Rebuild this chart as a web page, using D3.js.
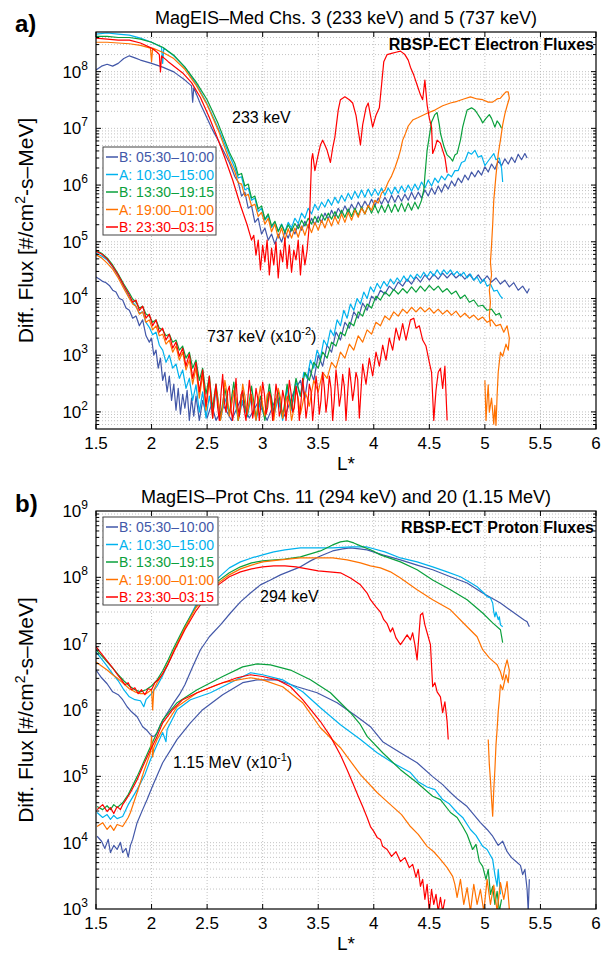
<!DOCTYPE html>
<html><head><meta charset="utf-8">
<script src="https://cdn.jsdelivr.net/npm/d3@7"></script>
<style>body{margin:0;background:#fff}svg{display:block}text{font-family:"Liberation Sans",Arial,Helvetica,sans-serif}</style>
</head><body>
<script>
// ---------------- DATA ----------------
const xTicks = [1.5, 2, 2.5, 3, 3.5, 4, 4.5, 5, 5.5, 6];
const xTickLabels = ["1.5", "2", "2.5", "3", "3.5", "4", "4.5", "5", "5.5", "6"];
const yExpA = [2, 3, 4, 5, 6, 7, 8];
const yExpB = [3, 4, 5, 6, 7, 8, 9];
const legendLabels = ["B: 05:30\u201310:00", "A: 10:30\u201315:00", "B: 13:30\u201319:15", "A: 19:00\u201301:00", "B: 23:30\u201303:15"];

// Panel a: MagEIS-Med electrons, 233 keV
const e233Blue = [[1.50,1.07e8],[1.55,1.25e8],[1.60,1.35e8],[1.65,1.25e8],[1.70,1.4e8],[1.75,1.7e8],[1.80,1.9e8],[1.85,1.75e8],[1.90,1.6e8],[2.00,1.4e8],[2.10,1.2e8],[2.20,9.9e7],[2.30,7.1e7],[2.36,5.6e7],[2.37,2.9e7],[2.38,5.2e7],[2.44,2.7e7],[2.50,1.5e7],[2.55,9.3e6],[2.60,6.1e6],[2.65,3.9e6],[2.70,2.5e6],[2.75,1.4e6],[2.78,1.13e6],[2.81,6.4e5],[2.84,7.5e5],[2.87,3.9e5],[2.90,4.3e5],[2.93,2.2e5],[2.96,2.6e5],[2.99,1.37e5],[3.02,1.75e5],[3.05,1.07e5],[3.08,1.37e5],[3.11,9.1e4],[3.14,1.37e5],[3.17,9.9e4],[3.20,1.5e5],[3.23,1.16e5],[3.26,1.75e5],[3.29,1.37e5],[3.32,2.05e5],[3.35,1.6e5],[3.38,2.3e5],[3.41,1.75e5],[3.44,2.6e5],[3.47,2.0e5],[3.50,2.8e5],[3.53,2.2e5],[3.56,3.2e5],[3.59,2.5e5],[3.62,3.6e5],[3.65,2.7e5],[3.68,3.9e5],[3.71,3.1e5],[3.74,4.3e5],[3.77,3.3e5],[3.80,4.6e5],[3.83,3.6e5],[3.86,5.0e5],[3.89,3.9e5],[3.92,5.2e5],[3.95,4.1e5],[3.98,5.6e5],[4.01,4.3e5],[4.04,5.9e5],[4.07,4.6e5],[4.10,6.1e5],[4.13,4.8e5],[4.16,6.6e5],[4.19,5.0e5],[4.22,6.6e5],[4.25,5.2e5],[4.28,6.9e5],[4.31,5.4e5],[4.34,7.5e5],[4.37,5.6e5],[4.40,7.5e5],[4.43,5.9e5],[4.46,8.2e5],[4.49,6.4e5],[4.52,8.9e5],[4.55,6.9e5],[4.58,9.6e5],[4.61,7.5e5],[4.64,1.04e6],[4.67,8.5e5],[4.70,1.18e6],[4.73,9.6e5],[4.76,1.33e6],[4.79,1.1e6],[4.82,1.5e6],[4.85,1.23e6],[4.88,1.7e6],[4.91,1.4e6],[4.94,1.8e6],[4.97,1.5e6],[5.00,2.1e6],[5.03,1.7e6],[5.06,2.35e6],[5.09,1.9e6],[5.12,2.65e6],[5.15,2.2e6],[5.18,2.9e6],[5.21,2.35e6],[5.24,3.1e6],[5.27,2.5e6],[5.30,3.5e6],[5.33,2.8e6],[5.36,3.6e6],[5.38,3.0e6]];
const e233Cyan = [[1.50,4.6e8],[1.60,4.8e8],[1.70,4.6e8],[1.80,4.4e8],[1.90,3.9e8],[2.00,3.3e8],[2.09,2.7e8],[2.10,1.4e8],[2.11,2.6e8],[2.20,1.9e8],[2.30,1.2e8],[2.40,6.1e7],[2.50,2.7e7],[2.60,1.0e7],[2.70,3.4e6],[2.75,2.0e6],[2.78,1.33e6],[2.81,1.4e6],[2.84,8.2e5],[2.87,8.9e5],[2.90,5.4e5],[2.93,5.9e5],[2.96,3.4e5],[2.99,3.9e5],[3.02,2.4e5],[3.05,2.9e5],[3.08,1.8e5],[3.11,2.2e5],[3.14,1.55e5],[3.17,2.05e5],[3.20,1.5e5],[3.23,2.2e5],[3.26,1.75e5],[3.29,2.6e5],[3.32,2.1e5],[3.35,3.2e5],[3.38,2.6e5],[3.41,3.9e5],[3.44,3.1e5],[3.47,4.6e5],[3.50,3.6e5],[3.53,5.0e5],[3.56,4.1e5],[3.59,5.6e5],[3.62,4.4e5],[3.65,6.1e5],[3.68,4.8e5],[3.71,6.6e5],[3.74,5.2e5],[3.77,7.2e5],[3.80,5.6e5],[3.83,7.8e5],[3.86,5.9e5],[3.89,8.2e5],[3.92,6.1e5],[3.95,8.5e5],[3.98,6.4e5],[4.01,8.5e5],[4.04,6.6e5],[4.07,8.9e5],[4.10,6.6e5],[4.13,8.9e5],[4.16,6.9e5],[4.19,9.2e5],[4.22,7.2e5],[4.25,9.6e5],[4.28,7.5e5],[4.31,1.0e6],[4.34,7.8e5],[4.37,1.04e6],[4.40,8.2e5],[4.43,1.13e6],[4.46,8.9e5],[4.49,1.23e6],[4.52,9.6e5],[4.55,1.33e6],[4.58,1.1e6],[4.61,1.44e6],[4.64,1.23e6],[4.67,1.56e6],[4.70,1.4e6],[4.73,1.8e6],[4.76,1.8e6],[4.79,2.5e6],[4.82,2.65e6],[4.85,3.8e6],[4.88,3.5e6],[4.91,4.1e6],[4.94,3.1e6],[4.97,3.3e6],[5.00,2.2e6],[5.02,2.5e6],[5.05,3.0e6],[5.08,3.6e6],[5.10,2.8e6],[5.13,3.0e6],[5.15,2.0e6],[5.16,1.13e6]];
const e233Green = [[1.50,4.2e8],[1.60,4.2e8],[1.70,4.0e8],[1.80,4.0e8],[1.90,3.75e8],[2.00,3.3e8],[2.10,2.7e8],[2.20,1.95e8],[2.30,1.2e8],[2.40,6.6e7],[2.50,3.2e7],[2.60,1.2e7],[2.70,3.8e6],[2.75,2.4e6],[2.78,1.5e6],[2.81,1.6e6],[2.84,9.6e5],[2.87,1.04e6],[2.90,5.9e5],[2.93,6.4e5],[2.96,3.8e5],[2.99,4.3e5],[3.02,2.5e5],[3.05,3.1e5],[3.08,1.9e5],[3.11,2.3e5],[3.14,1.5e5],[3.17,2.0e5],[3.20,1.45e5],[3.23,2.0e5],[3.26,1.55e5],[3.29,2.1e5],[3.32,1.7e5],[3.35,2.4e5],[3.38,1.9e5],[3.41,2.6e5],[3.44,2.05e5],[3.47,2.8e5],[3.50,2.2e5],[3.53,3.1e5],[3.56,2.4e5],[3.59,3.2e5],[3.62,2.5e5],[3.65,3.4e5],[3.68,2.6e5],[3.71,3.6e5],[3.74,2.7e5],[3.77,3.8e5],[3.80,2.8e5],[3.83,3.9e5],[3.86,2.9e5],[3.89,4.1e5],[3.92,3.1e5],[3.95,4.3e5],[3.98,3.2e5],[4.01,4.4e5],[4.04,3.2e5],[4.07,4.4e5],[4.10,3.3e5],[4.13,4.6e5],[4.16,3.3e5],[4.19,4.6e5],[4.22,3.4e5],[4.25,4.8e5],[4.28,3.4e5],[4.31,4.8e5],[4.34,3.6e5],[4.37,5.0e5],[4.40,3.8e5],[4.43,5.4e5],[4.45,8.2e5],[4.46,1.44e6],[4.48,4.1e6],[4.50,7.3e6],[4.52,1.3e7],[4.55,1.75e7],[4.57,1.9e7],[4.59,1.15e7],[4.60,8.2e6],[4.63,4.9e6],[4.66,3.4e6],[4.69,3.0e6],[4.71,2.65e6],[4.73,3.4e6],[4.75,3.6e6],[4.78,6.2e6],[4.80,1.05e7],[4.82,1.5e7],[4.84,2.1e7],[4.88,2.3e7],[4.91,2.1e7],[4.93,1.85e7],[4.96,1.5e7],[4.98,1.25e7],[5.01,1.5e7],[5.04,1.75e7],[5.06,1.5e7],[5.09,1.05e7],[5.11,1.35e7],[5.13,1.2e7],[5.15,1.0e7]];
const e233Orange = [[1.50,3.3e8],[1.60,3.3e8],[1.70,3.2e8],[1.80,3.1e8],[1.90,2.9e8],[1.99,2.6e8],[2.00,1.5e8],[2.01,2.6e8],[2.10,2.2e8],[2.20,1.7e8],[2.30,1.1e8],[2.40,5.8e7],[2.50,2.6e7],[2.60,9.3e6],[2.70,2.8e6],[2.75,1.7e6],[2.78,1.1e6],[2.81,1.04e6],[2.84,6.4e5],[2.87,6.9e5],[2.90,4.3e5],[2.93,4.6e5],[2.96,2.8e5],[2.99,3.3e5],[3.02,2.05e5],[3.05,2.6e5],[3.08,1.5e5],[3.11,2.05e5],[3.14,1.16e5],[3.17,1.75e5],[3.20,1.07e5],[3.23,1.7e5],[3.26,1.16e5],[3.29,1.75e5],[3.32,1.2e5],[3.35,1.9e5],[3.38,1.3e5],[3.41,2.05e5],[3.44,1.45e5],[3.47,2.2e5],[3.50,1.6e5],[3.53,2.4e5],[3.56,1.75e5],[3.59,2.6e5],[3.62,1.9e5],[3.65,2.8e5],[3.68,2.05e5],[3.71,3.1e5],[3.74,2.2e5],[3.77,3.3e5],[3.80,2.4e5],[3.83,3.6e5],[3.86,2.7e5],[3.89,3.9e5],[3.92,3.1e5],[3.95,4.4e5],[3.98,3.6e5],[4.01,5.4e5],[4.04,4.8e5],[4.07,7.2e5],[4.10,8.2e5],[4.13,1.13e6],[4.16,1.44e6],[4.19,2.0e6],[4.22,3.0e6],[4.24,4.1e6],[4.26,6.2e6],[4.28,7.6e6],[4.31,1.1e7],[4.35,1.4e7],[4.40,1.55e7],[4.48,1.85e7],[4.55,2.1e7],[4.62,2.5e7],[4.69,2.8e7],[4.75,3.0e7],[4.81,3.3e7],[4.87,3.6e7],[4.93,3.3e7],[4.98,3.2e7],[5.03,2.9e7],[5.07,2.9e7],[5.11,3.3e7],[5.14,3.4e7],[5.17,4.0e7],[5.19,4.4e7],[5.21,4.4e7],[5.22,3.4e7],[5.20,2.5e7],[5.18,1.8e7],[5.16,1.15e7],[5.14,6.2e6],[5.12,3.5e6],[5.10,1.5e6],[5.08,5.4e5],[5.07,2.0e5],[5.06,8.8e4],[5.05,4.4e4],[5.06,2.6e4],[5.04,1.4e4],[5.05,8.6e3],[5.04,5.0e3],[5.05,3.2e3]];
const e233Red = [[1.50,3.9e8],[1.60,3.75e8],[1.70,3.6e8],[1.80,3.6e8],[1.90,3.2e8],[2.00,2.6e8],[2.05,2.2e8],[2.07,2.0e8],[2.08,9.9e7],[2.09,1.9e8],[2.15,1.5e8],[2.28,9.5e7],[2.36,6.4e7],[2.44,3.5e7],[2.52,1.55e7],[2.59,7.0e6],[2.66,3.0e6],[2.73,1.23e6],[2.80,4.4e5],[2.86,2.0e5],[2.90,1.07e5],[2.92,1.3e5],[2.94,5.8e4],[2.96,1.07e5],[2.98,3.2e4],[3.00,8.7e4],[3.02,4.4e4],[3.04,1.07e5],[3.06,2.6e4],[3.08,7.7e4],[3.10,3.9e4],[3.12,9.9e4],[3.14,2.3e4],[3.16,7.1e4],[3.18,4.4e4],[3.20,1.16e5],[3.22,3.4e4],[3.24,8.7e4],[3.26,2.9e4],[3.28,7.1e4],[3.30,4.8e4],[3.32,1.07e5],[3.34,2.6e4],[3.36,8.7e4],[3.38,3.9e4],[3.40,7.1e4],[3.42,2.0e5],[3.44,2.8e6],[3.45,3.6e6],[3.47,1.8e6],[3.49,2.8e6],[3.52,5.1e6],[3.54,6.2e6],[3.56,5.1e6],[3.58,4.1e6],[3.61,2.5e6],[3.63,4.5e6],[3.65,7.0e6],[3.68,2.1e7],[3.70,3.2e7],[3.74,3.6e7],[3.78,3.2e7],[3.81,2.8e7],[3.84,1.7e7],[3.86,9.3e6],[3.88,5.1e6],[3.90,1.15e7],[3.93,2.3e7],[3.95,2.8e7],[3.97,1.7e7],[3.99,1.05e7],[4.02,1.7e7],[4.05,2.3e7],[4.07,5.8e7],[4.09,1.5e8],[4.12,2.0e8],[4.16,2.1e8],[4.20,2.2e8],[4.24,2.3e8],[4.28,2.0e8],[4.31,1.6e8],[4.33,1.2e8],[4.36,8.7e7],[4.39,5.8e7],[4.42,3.9e7],[4.44,3.2e7],[4.46,7.1e7],[4.48,2.6e7],[4.50,1.5e7],[4.52,1.05e7],[4.53,3.6e6],[4.55,4.5e6],[4.57,6.2e6],[4.60,5.5e6],[4.62,4.1e6],[4.64,3.1e6],[4.66,1.65e6]];

// Panel a: 737 keV (x10^-2)
const e737Blue = [[1.50,2.4e4],[1.53,2.2e4],[1.56,2.0e4],[1.59,1.9e4],[1.62,1.7e4],[1.65,1.4e4],[1.68,1.3e4],[1.71,1.0e4],[1.74,9.4e3],[1.77,6.8e3],[1.80,6.2e3],[1.83,4.5e3],[1.86,4.9e3],[1.89,3.3e3],[1.92,4.2e3],[1.95,2.2e3],[1.98,1.7e3],[2.00,2.0e3],[2.02,1.0e3],[2.04,1.23e3],[2.06,590],[2.08,890],[2.10,360],[2.12,500],[2.14,225],[2.16,430],[2.18,160],[2.20,310],[2.22,107],[2.24,260],[2.26,91],[2.28,205],[2.30,116],[2.32,240],[2.34,71],[2.36,175],[2.38,84],[2.40,190],[2.43,71],[2.46,160],[2.50,78],[2.54,137],[2.58,71],[2.65,126],[2.72,71],[2.80,160],[2.88,78],[2.96,150],[3.04,71],[3.12,175],[3.20,84],[3.28,225],[3.34,360],[3.38,175],[3.42,590],[3.46,360],[3.50,1.0e3],[3.54,640],[3.58,1.5e3],[3.62,1.13e3],[3.66,2.55e3],[3.70,1.85e3],[3.74,3.8e3],[3.78,3.0e3],[3.82,5.8e3],[3.86,4.5e3],[3.90,8.3e3],[3.94,6.2e3],[3.98,1.1e4],[4.02,9.4e3],[4.06,1.4e4],[4.10,1.2e4],[4.14,1.65e4],[4.18,1.4e4],[4.22,1.95e4],[4.26,1.65e4],[4.30,2.2e4],[4.34,1.8e4],[4.38,2.4e4],[4.42,1.95e4],[4.46,2.6e4],[4.50,2.1e4],[4.54,2.7e4],[4.58,2.2e4],[4.62,2.8e4],[4.66,2.3e4],[4.70,2.8e4],[4.74,2.3e4],[4.78,2.7e4],[4.82,2.2e4],[4.86,2.7e4],[4.90,2.1e4],[4.94,2.6e4],[4.98,2.0e4],[5.02,2.5e4],[5.06,1.95e4],[5.10,2.3e4],[5.14,1.8e4],[5.18,2.1e4],[5.22,1.6e4],[5.26,1.9e4],[5.30,1.4e4],[5.34,1.65e4],[5.38,1.25e4],[5.40,1.5e4]];
const e737Cyan = [[1.50,6.3e4],[1.55,5.6e4],[1.60,4.8e4],[1.65,3.6e4],[1.70,2.5e4],[1.75,1.65e4],[1.80,1.05e4],[1.83,8.6e3],[1.86,7.3e3],[1.89,5.5e3],[1.92,5.8e3],[1.95,3.8e3],[1.98,3.1e3],[2.01,2.3e3],[2.04,2.55e3],[2.07,1.5e3],[2.10,1.23e3],[2.13,750],[2.16,1.0e3],[2.19,590],[2.22,700],[2.25,390],[2.28,550],[2.31,260],[2.34,390],[2.37,160],[2.40,300],[2.43,99],[2.46,225],[2.49,78],[2.52,190],[2.55,84],[2.58,240],[2.62,71],[2.66,175],[2.70,91],[2.74,225],[2.78,71],[2.82,160],[2.86,81],[2.90,190],[2.94,71],[2.98,150],[3.02,78],[3.06,240],[3.10,84],[3.14,175],[3.18,71],[3.22,260],[3.26,107],[3.30,335],[3.34,190],[3.37,500],[3.40,390],[3.43,820],[3.46,590],[3.49,1.23e3],[3.52,890],[3.55,1.85e3],[3.58,1.45e3],[3.61,2.8e3],[3.64,2.2e3],[3.67,4.2e3],[3.70,3.3e3],[3.73,6.2e3],[3.76,4.5e3],[3.79,8.0e3],[3.82,6.2e3],[3.85,1.0e4],[3.88,8.0e3],[3.91,1.3e4],[3.94,1.0e4],[3.97,1.6e4],[4.00,1.3e4],[4.03,1.85e4],[4.06,1.5e4],[4.09,2.0e4],[4.12,1.65e4],[4.15,2.2e4],[4.18,1.8e4],[4.21,2.3e4],[4.24,1.95e4],[4.27,2.5e4],[4.30,2.0e4],[4.33,2.6e4],[4.36,2.2e4],[4.39,2.7e4],[4.42,2.3e4],[4.45,2.9e4],[4.48,2.4e4],[4.51,3.0e4],[4.54,2.5e4],[4.57,3.2e4],[4.60,2.6e4],[4.63,3.2e4],[4.66,2.7e4],[4.69,3.2e4],[4.72,2.6e4],[4.75,3.0e4],[4.78,2.5e4],[4.81,2.9e4],[4.84,2.3e4],[4.87,2.7e4],[4.90,2.1e4],[4.93,2.4e4],[4.96,1.85e4],[4.99,2.2e4],[5.02,1.65e4],[5.05,1.8e4],[5.08,1.35e4],[5.11,1.4e4],[5.14,1.1e4],[5.16,1.0e4]];
const e737Green = [[1.50,7.1e4],[1.55,6.3e4],[1.60,5.2e4],[1.65,3.9e4],[1.70,2.7e4],[1.75,1.8e4],[1.80,1.25e4],[1.83,9.8e3],[1.86,8.6e3],[1.89,6.8e3],[1.92,7.3e3],[1.95,5.3e3],[1.98,4.9e3],[2.01,3.8e3],[2.04,4.2e3],[2.07,3.0e3],[2.10,2.8e3],[2.13,2.2e3],[2.16,2.35e3],[2.19,1.7e3],[2.22,1.85e3],[2.25,1.23e3],[2.28,1.45e3],[2.31,890],[2.34,1.13e3],[2.37,590],[2.40,820],[2.43,360],[2.46,590],[2.49,205],[2.52,430],[2.55,116],[2.58,310],[2.62,78],[2.66,260],[2.70,91],[2.74,335],[2.78,71],[2.82,225],[2.86,84],[2.90,285],[2.94,78],[2.98,190],[3.02,71],[3.06,310],[3.10,99],[3.14,240],[3.18,78],[3.22,310],[3.26,116],[3.30,390],[3.34,190],[3.38,500],[3.42,360],[3.46,750],[3.50,590],[3.54,1.13e3],[3.58,890],[3.62,1.7e3],[3.66,1.45e3],[3.70,2.55e3],[3.74,2.2e3],[3.78,3.8e3],[3.82,3.3e3],[3.86,5.8e3],[3.90,4.9e3],[3.94,8.0e3],[3.98,6.8e3],[4.02,1.1e4],[4.06,9.4e3],[4.10,1.3e4],[4.14,1.1e4],[4.18,1.45e4],[4.22,1.2e4],[4.26,1.5e4],[4.30,1.25e4],[4.34,1.6e4],[4.38,1.3e4],[4.42,1.65e4],[4.46,1.35e4],[4.50,1.7e4],[4.54,1.4e4],[4.58,1.65e4],[4.62,1.3e4],[4.66,1.5e4],[4.70,1.2e4],[4.74,1.35e4],[4.78,1.0e4],[4.82,1.15e4],[4.86,8.6e3],[4.90,9.4e3],[4.94,7.3e3],[4.98,7.6e3],[5.02,6.2e3],[5.06,6.5e3],[5.10,5.1e3],[5.13,5.5e3],[5.15,4.5e3]];
const e737Orange = [[1.50,5.9e4],[1.55,5.2e4],[1.60,4.2e4],[1.65,3.3e4],[1.70,2.3e4],[1.75,1.5e4],[1.80,1.0e4],[1.83,8.0e3],[1.86,7.3e3],[1.89,5.3e3],[1.92,5.8e3],[1.95,3.8e3],[1.98,4.2e3],[2.01,2.8e3],[2.04,3.3e3],[2.07,2.2e3],[2.10,2.35e3],[2.13,1.57e3],[2.16,1.85e3],[2.19,1.13e3],[2.22,1.45e3],[2.25,820],[2.28,1.13e3],[2.31,550],[2.34,820],[2.37,310],[2.40,590],[2.43,175],[2.46,460],[2.49,107],[2.52,360],[2.55,78],[2.565,170],[2.58,260],[2.60,150],[2.62,71],[2.64,120],[2.66,360],[2.68,200],[2.70,84],[2.72,130],[2.74,240],[2.76,170],[2.78,71],[2.80,110],[2.82,310],[2.84,190],[2.86,91],[2.88,140],[2.90,205],[2.92,120],[2.94,71],[2.96,160],[2.98,285],[3.00,130],[3.02,84],[3.04,200],[3.06,225],[3.08,110],[3.10,71],[3.12,150],[3.14,260],[3.16,180],[3.18,78],[3.20,120],[3.22,190],[3.24,150],[3.26,71],[3.28,110],[3.30,240],[3.32,170],[3.34,91],[3.36,140],[3.38,225],[3.40,180],[3.42,126],[3.44,220],[3.46,360],[3.50,225],[3.54,500],[3.58,390],[3.62,750],[3.66,590],[3.70,1.13e3],[3.74,890],[3.78,1.57e3],[3.82,1.23e3],[3.86,2.2e3],[3.90,1.7e3],[3.94,2.8e3],[3.98,2.35e3],[4.02,3.8e3],[4.06,3.3e3],[4.10,4.9e3],[4.14,4.2e3],[4.18,5.8e3],[4.22,4.9e3],[4.26,6.5e3],[4.30,5.5e3],[4.34,7.0e3],[4.38,5.8e3],[4.42,7.0e3],[4.46,5.8e3],[4.50,6.8e3],[4.54,5.5e3],[4.58,6.5e3],[4.62,5.3e3],[4.66,6.2e3],[4.70,5.1e3],[4.74,6.0e3],[4.78,4.7e3],[4.82,5.5e3],[4.86,4.5e3],[4.90,5.1e3],[4.94,4.2e3],[4.98,4.7e3],[5.02,3.8e3],[5.06,4.2e3],[5.10,3.3e3],[5.14,3.5e3],[5.17,2.55e3],[5.20,3.3e3],[5.22,2.0e3],[5.21,1.23e3],[5.19,1.57e3],[5.16,960],[5.14,1.13e3],[5.12,500],[5.11,195],[5.10,58],[5.09,130],[5.08,61],[5.06,175],[5.04,99],[5.03,300],[5.02,160],[5.01,71],[5.00,360]];
const e737Red = [[1.50,6.8e4],[1.55,6.1e4],[1.60,5.0e4],[1.65,3.7e4],[1.70,2.6e4],[1.75,1.7e4],[1.80,1.15e4],[1.83,8.6e3],[1.86,9.4e3],[1.89,6.2e3],[1.92,7.3e3],[1.95,4.5e3],[1.98,5.3e3],[2.01,3.3e3],[2.04,4.2e3],[2.07,2.55e3],[2.10,3.0e3],[2.13,1.85e3],[2.16,2.35e3],[2.19,1.33e3],[2.22,1.7e3],[2.25,960],[2.28,1.33e3],[2.31,640],[2.34,1.05e3],[2.37,390],[2.40,750],[2.43,225],[2.46,550],[2.49,126],[2.52,430],[2.55,78],[2.565,180],[2.58,310],[2.595,120],[2.61,71],[2.625,210],[2.64,460],[2.655,150],[2.67,99],[2.685,230],[2.70,285],[2.715,110],[2.73,71],[2.745,170],[2.76,390],[2.775,130],[2.79,84],[2.805,200],[2.82,240],[2.835,105],[2.85,71],[2.865,160],[2.88,360],[2.895,190],[2.91,78],[2.925,120],[2.94,260],[2.955,175],[2.97,71],[2.985,140],[3.00,335],[3.015,210],[3.03,91],[3.045,120],[3.06,225],[3.075,180],[3.09,71],[3.105,130],[3.12,310],[3.135,200],[3.15,84],[3.165,110],[3.18,240],[3.195,170],[3.21,71],[3.225,140],[3.24,360],[3.255,220],[3.27,99],[3.285,120],[3.30,285],[3.315,190],[3.33,71],[3.345,150],[3.36,390],[3.375,200],[3.39,78],[3.405,130],[3.42,310],[3.435,230],[3.45,71],[3.465,150],[3.48,430],[3.495,250],[3.51,91],[3.525,160],[3.54,500],[3.555,270],[3.57,99],[3.585,180],[3.60,430],[3.615,260],[3.63,71],[3.645,170],[3.66,550],[3.675,300],[3.69,126],[3.705,200],[3.72,460],[3.735,280],[3.75,71],[3.765,220],[3.78,590],[3.795,330],[3.81,160],[3.825,260],[3.84,500],[3.855,380],[3.87,78],[3.885,240],[3.90,700],[3.93,310],[3.96,890],[3.99,430],[4.02,1.13e3],[4.05,640],[4.08,1.5e3],[4.11,820],[4.14,2.0e3],[4.17,1.23e3],[4.20,3.0e3],[4.23,1.85e3],[4.26,3.6e3],[4.29,1.85e3],[4.31,2.8e3],[4.33,4.2e3],[4.36,4.5e3],[4.38,3.0e3],[4.41,3.3e3],[4.44,1.85e3],[4.47,1.45e3],[4.50,750],[4.52,500],[4.54,71],[4.56,240],[4.58,500],[4.60,590],[4.62,260],[4.64,640],[4.66,71]];

// Panel b: MagEIS-Prot protons, 294 keV
const p294Blue = [[1.50,4.0e6],[1.55,3.06e6],[1.60,2.49e6],[1.65,1.88e6],[1.70,1.7e6],[1.74,1.43e6],[1.78,1.12e6],[1.82,9.4e5],[1.87,7.9e5],[1.92,5.6e5],[1.96,4.9e5],[1.99,4.26e5],[2.01,3.98e5],[2.03,4.1e5],[2.05,4.57e5],[2.08,6.0e5],[2.12,7.9e5],[2.16,1.01e6],[2.20,1.29e6],[2.25,1.7e6],[2.30,2.4e6],[2.37,4.47e6],[2.44,8.1e6],[2.52,1.27e7],[2.62,1.92e7],[2.71,2.9e7],[2.80,4.27e7],[2.89,5.8e7],[2.98,7.7e7],[3.07,9.1e7],[3.16,1.09e8],[3.25,1.25e8],[3.34,1.44e8],[3.43,1.77e8],[3.52,2.1e8],[3.63,2.5e8],[3.72,2.68e8],[3.79,2.78e8],[3.87,2.68e8],[3.94,2.6e8],[4.08,2.18e8],[4.24,1.83e8],[4.39,1.53e8],[4.53,1.3e8],[4.69,1.02e8],[4.84,8.2e7],[4.98,5.8e7],[5.14,4.1e7],[5.29,2.7e7],[5.35,2.3e7],[5.38,2.14e7],[5.40,1.8e7]];
const p294Cyan = [[1.50,7.5e6],[1.55,5.9e6],[1.60,4.6e6],[1.65,3.5e6],[1.70,2.76e6],[1.75,2.02e6],[1.80,1.58e6],[1.85,1.43e6],[1.90,1.38e6],[1.93,1.12e6],[1.95,1.43e6],[2.00,1.76e6],[2.05,2.3e6],[2.10,3.3e6],[2.15,4.96e6],[2.20,7.8e6],[2.30,1.8e7],[2.40,3.85e7],[2.50,6.5e7],[2.60,9.8e7],[2.70,1.39e8],[2.80,1.71e8],[2.90,1.96e8],[3.00,2.18e8],[3.10,2.42e8],[3.20,2.6e8],[3.34,2.78e8],[3.52,2.78e8],[3.63,2.78e8],[3.80,2.87e8],[3.94,2.87e8],[4.10,2.42e8],[4.24,1.96e8],[4.39,1.71e8],[4.53,1.44e8],[4.66,1.21e8],[4.78,1.02e8],[4.86,8.5e7],[4.93,7.2e7],[5.00,5.6e7],[5.02,5.1e7],[5.05,4.9e7],[5.07,4.1e7],[5.08,3.0e7],[5.09,2.54e7],[5.10,3.0e7],[5.12,2.3e7],[5.13,2.54e7],[5.14,1.92e7],[5.16,1.8e7]];
const p294Green = [[1.50,8.1e6],[1.55,6.6e6],[1.60,5.3e6],[1.65,4.3e6],[1.70,3.4e6],[1.75,2.76e6],[1.80,2.3e6],[1.85,2.02e6],[1.90,1.88e6],[1.95,2.02e6],[2.00,2.3e6],[2.05,2.85e6],[2.10,3.9e6],[2.15,5.7e6],[2.20,8.7e6],[2.30,1.86e7],[2.40,3.6e7],[2.50,6.0e7],[2.60,8.84e7],[2.70,1.17e8],[2.80,1.44e8],[2.90,1.65e8],[3.00,1.77e8],[3.20,1.89e8],[3.34,2.03e8],[3.52,2.5e8],[3.63,3.08e8],[3.70,3.42e8],[3.76,3.54e8],[3.82,3.3e8],[3.88,2.98e8],[3.97,2.6e8],[4.06,2.18e8],[4.24,1.71e8],[4.39,1.3e8],[4.53,9.1e7],[4.69,6.5e7],[4.84,4.6e7],[4.98,2.9e7],[5.07,2.06e7],[5.14,1.62e7],[5.16,1.04e7]];
const p294Orange = [[1.50,5.3e6],[1.55,4.6e6],[1.60,4.0e6],[1.65,3.4e6],[1.70,2.95e6],[1.75,2.49e6],[1.80,2.09e6],[1.85,1.88e6],[1.90,1.76e6],[1.95,1.76e6],[2.00,2.02e6],[2.01,1.0e6],[2.02,2.0e6],[2.05,2.58e6],[2.10,3.5e6],[2.15,5.1e6],[2.20,7.8e6],[2.30,1.73e7],[2.40,3.5e7],[2.50,5.6e7],[2.60,8.2e7],[2.70,1.09e8],[2.80,1.34e8],[2.90,1.53e8],[3.00,1.71e8],[3.16,1.83e8],[3.34,1.96e8],[3.52,1.96e8],[3.63,1.96e8],[3.76,1.83e8],[3.88,1.65e8],[3.97,1.49e8],[4.06,1.39e8],[4.15,1.21e8],[4.24,9.8e7],[4.39,6.5e7],[4.53,4.6e7],[4.69,3.24e7],[4.84,1.8e7],[4.93,1.27e7],[4.98,8.1e6],[5.04,6.1e6],[5.07,5.5e6],[5.11,4.8e6],[5.14,3.77e6],[5.16,2.85e6],[5.18,4.3e6],[5.20,5.7e6],[5.22,4.0e6],[5.21,2.58e6],[5.19,3.4e6],[5.16,2.02e6],[5.14,2.4e6],[5.13,1.43e6],[5.12,9.4e5],[5.11,5.1e5],[5.10,3.0e5],[5.09,1.26e5],[5.08,6.3e4],[5.07,2.5e4],[5.06,4.5e4],[5.05,8.9e4],[5.04,1.5e5],[5.03,3.6e5]];
const p294Red = [[1.50,9.0e6],[1.55,7.0e6],[1.60,5.5e6],[1.65,4.3e6],[1.70,3.3e6],[1.73,2.85e6],[1.76,2.4e6],[1.79,2.58e6],[1.82,2.02e6],[1.85,2.16e6],[1.88,1.76e6],[1.91,2.02e6],[1.94,1.7e6],[1.97,2.09e6],[2.00,2.02e6],[2.03,2.58e6],[2.06,2.85e6],[2.10,3.5e6],[2.15,4.96e6],[2.20,7.5e6],[2.30,1.62e7],[2.40,3.13e7],[2.50,5.3e7],[2.60,7.7e7],[2.70,1.02e8],[2.80,1.21e8],[2.90,1.34e8],[3.00,1.44e8],[3.10,1.49e8],[3.20,1.49e8],[3.30,1.44e8],[3.40,1.34e8],[3.50,1.25e8],[3.60,1.21e8],[3.70,1.17e8],[3.79,9.8e7],[3.88,7.7e7],[3.94,5.8e7],[3.97,4.6e7],[4.02,3.6e7],[4.06,3.0e7],[4.09,2.3e7],[4.12,2.0e7],[4.15,1.5e7],[4.17,1.73e7],[4.20,1.22e7],[4.24,9.7e6],[4.27,1.14e7],[4.30,1.36e7],[4.33,1.14e7],[4.35,1.46e7],[4.37,9.7e6],[4.39,5.7e6],[4.41,1.62e7],[4.42,2.7e7],[4.44,2.9e7],[4.46,1.92e7],[4.48,1.46e7],[4.51,9.7e6],[4.53,2.24e6],[4.55,2.58e6],[4.57,1.88e6],[4.60,1.58e6],[4.62,9.1e5],[4.64,1.33e6],[4.66,6.7e5],[4.67,3.6e5]];

// Panel b: 1.15 MeV (x10^-1)
const p115Blue = [[1.51,1.25e4],[1.55,1.05e4],[1.58,8.2e3],[1.61,1.12e4],[1.63,7.1e3],[1.66,9.1e3],[1.69,7.9e3],[1.72,1.01e4],[1.74,7.1e3],[1.77,8.2e3],[1.79,6.05e3],[1.81,9.1e3],[1.83,1.12e4],[1.87,2.0e4],[1.92,3.15e4],[1.96,4.46e4],[2.01,7.2e4],[2.10,1.6e5],[2.23,3.6e5],[2.35,6.4e5],[2.46,1.01e6],[2.64,1.7e6],[2.82,2.58e6],[2.95,2.85e6],[3.13,2.85e6],[3.31,2.24e6],[3.49,1.82e6],[3.67,1.29e6],[3.85,7.9e5],[3.97,5.6e5],[4.08,3.33e5],[4.24,2.27e5],[4.39,1.6e5],[4.53,9.9e4],[4.62,7.5e4],[4.69,5.7e4],[4.76,4.46e4],[4.84,3.5e4],[4.90,2.65e4],[4.96,2.0e4],[5.02,1.58e4],[5.07,1.25e4],[5.12,9.1e3],[5.16,1.05e4],[5.20,7.3e3],[5.24,5.96e3],[5.28,5.2e3],[5.32,4.55e3],[5.34,3.3e3],[5.36,3.95e3],[5.38,1.97e3],[5.39,920],[5.40,2.8e3]];
const p115Cyan = [[1.51,2.85e4],[1.56,2.4e4],[1.60,2.65e4],[1.63,2.24e4],[1.66,2.57e4],[1.69,2.3e4],[1.74,2.48e4],[1.79,3.74e4],[1.87,6.3e4],[1.94,1.06e5],[1.99,1.78e5],[2.05,3.0e5],[2.10,4.57e5],[2.13,3.33e5],[2.14,5.1e5],[2.23,1.01e6],[2.35,1.43e6],[2.53,1.82e6],[2.71,2.58e6],[2.89,3.64e6],[3.00,3.4e6],[3.18,2.85e6],[3.36,1.88e6],[3.52,1.08e6],[3.70,6.0e5],[3.88,3.6e5],[4.03,2.27e5],[4.17,1.6e5],[4.33,1.14e5],[4.40,8.3e4],[4.48,6.9e4],[4.55,6.3e4],[4.62,4.46e4],[4.68,3.85e4],[4.75,2.85e4],[4.80,2.4e4],[4.87,1.58e4],[4.92,1.29e4],[4.98,8.8e3],[5.02,7.9e3],[5.07,5.6e3],[5.09,3.3e3],[5.11,2.2e3],[5.12,3.95e3],[5.14,1.66e3]];
const p115Green = [[1.51,3.5e4],[1.56,3.15e4],[1.60,3.6e4],[1.63,3.15e4],[1.66,3.74e4],[1.69,3.37e4],[1.74,4.0e4],[1.79,5.3e4],[1.87,9.9e4],[1.93,1.66e5],[1.99,2.8e5],[2.05,4.57e5],[2.10,7.1e5],[2.23,1.29e6],[2.41,2.02e6],[2.64,3.2e6],[2.82,4.47e6],[2.95,4.96e6],[3.07,4.8e6],[3.25,4.0e6],[3.43,2.85e6],[3.61,1.82e6],[3.79,9.1e5],[3.88,6.0e5],[3.94,4.0e5],[4.08,2.27e5],[4.24,1.26e5],[4.39,8.0e4],[4.53,5.0e4],[4.60,4.46e4],[4.69,2.85e4],[4.75,2.4e4],[4.80,1.75e4],[4.84,1.33e4],[4.89,7.9e3],[4.92,9.4e3],[4.95,5.2e3],[4.98,4.4e3],[5.01,2.8e3],[5.03,3.95e3],[5.05,1.66e3],[5.07,2.2e3],[5.09,1.17e3],[5.11,1.84e3],[5.13,920],[5.15,1.4e3]];
const p115Orange = [[1.51,1.75e4],[1.56,2.0e4],[1.60,1.58e4],[1.63,1.82e4],[1.66,1.53e4],[1.69,1.88e4],[1.74,1.75e4],[1.79,2.4e4],[1.81,2.85e4],[1.87,5.7e4],[1.93,1.18e5],[1.99,2.27e5],[2.00,4.0e5],[2.01,1.96e5],[2.02,2.7e5],[2.05,3.6e5],[2.10,5.1e5],[2.23,1.12e6],[2.41,1.82e6],[2.64,2.58e6],[2.89,3.06e6],[3.00,2.85e6],[3.18,2.24e6],[3.36,1.29e6],[3.52,5.4e5],[3.70,2.7e5],[3.88,1.06e5],[4.03,5.7e4],[4.10,4.46e4],[4.17,3.5e4],[4.25,2.65e4],[4.33,1.75e4],[4.40,1.33e4],[4.48,8.8e3],[4.54,7.3e3],[4.60,5.6e3],[4.66,4.2e3],[4.71,3.1e3],[4.73,2.35e3],[4.75,1.5e3],[4.78,2.8e3],[4.81,1.17e3],[4.84,2.1e3],[4.87,920],[4.90,2.35e3],[4.93,1.17e3],[4.96,1.97e3],[4.99,920],[5.02,2.8e3],[5.05,1.17e3],[5.08,2.3e3],[5.11,920],[5.14,2.5e3],[5.17,1.4e3],[5.20,2.6e3],[5.22,990]];
const p115Red = [[1.51,3.15e4],[1.56,3.74e4],[1.60,2.95e4],[1.63,3.37e4],[1.66,2.75e4],[1.69,3.5e4],[1.72,3.15e4],[1.74,3.74e4],[1.77,4.46e4],[1.81,5.7e4],[1.87,8.9e4],[1.92,1.4e5],[1.99,2.5e5],[2.05,4.0e5],[2.10,6.4e5],[2.19,1.01e6],[2.28,1.43e6],[2.41,1.82e6],[2.59,2.4e6],[2.77,3.06e6],[2.89,3.4e6],[3.00,3.2e6],[3.13,2.85e6],[3.25,2.24e6],[3.36,1.43e6],[3.52,6.7e5],[3.61,4.0e5],[3.70,2.1e5],[3.76,1.26e5],[3.81,8.0e4],[3.86,5.0e4],[3.90,3.5e4],[3.94,2.4e4],[3.97,1.75e4],[4.00,1.48e4],[4.03,1.2e4],[4.06,1.12e4],[4.08,8.8e3],[4.12,7.9e3],[4.16,6.2e3],[4.20,7.3e3],[4.24,5.2e3],[4.28,5.96e3],[4.32,4.2e3],[4.35,4.7e3],[4.38,3.0e3],[4.40,3.95e3],[4.42,2.2e3],[4.44,2.8e3],[4.46,1.4e3],[4.48,2.35e3],[4.50,920],[4.52,1.97e3],[4.54,1.17e3],[4.56,1.66e3],[4.58,920],[4.60,1.5e3],[4.62,920],[4.64,1.4e3]];

// ---------------- STYLE / LAYOUT ----------------
const colors = ["#4257a8", "#00b2ee", "#0aa03c", "#ff7200", "#ff0000"];
const FONT = '"Liberation Sans", Arial, Helvetica, sans-serif';

const svg = d3.select("body").append("svg").attr("width", 601).attr("height", 955);
svg.append("rect").attr("width", 601).attr("height", 955).attr("fill", "#fff");

function drawPanel(p) {
  const x = d3.scaleLinear().domain([xTicks[0], xTicks[xTicks.length - 1]]).range([p.left, p.right]);
  const y = d3.scaleLog().domain(p.yDomain).range([p.bottom, p.top]);
  const g = svg.append("g");
  const clipId = "clip" + p.id;
  svg.append("clipPath").attr("id", clipId).append("rect")
    .attr("x", p.left).attr("y", p.top).attr("width", p.right - p.left).attr("height", p.bottom - p.top);

  // grid
  const yGrid = y.ticks().filter(v => v > p.yDomain[0] * 1.0001 && v < p.yDomain[1] * 0.9999);
  g.selectAll(".gy").data(yGrid).enter().append("line")
    .attr("x1", p.left).attr("x2", p.right).attr("y1", d => y(d)).attr("y2", d => y(d))
    .attr("stroke", "#b4b4b4").attr("stroke-width", 0.8).attr("stroke-dasharray", "1,2");
  g.selectAll(".gx").data(xTicks.slice(1, -1)).enter().append("line")
    .attr("x1", d => x(d)).attr("x2", d => x(d)).attr("y1", p.top).attr("y2", p.bottom)
    .attr("stroke", "#b4b4b4").attr("stroke-width", 0.8).attr("stroke-dasharray", "1,2");

  // data lines
  const line = d3.line().x(d => x(d[0])).y(d => y(d[1]));
  const lines = g.append("g").attr("clip-path", "url(#" + clipId + ")");
  p.series.forEach(s => {
    lines.append("path").attr("d", line(s.data)).attr("fill", "none")
      .attr("stroke", colors[s.c]).attr("stroke-width", 1.2).attr("stroke-linejoin", "round");
  });

  // frame
  g.append("rect").attr("x", p.left).attr("y", p.top).attr("width", p.right - p.left).attr("height", p.bottom - p.top)
    .attr("fill", "none").attr("stroke", "#000").attr("stroke-width", 1.2);

  // x ticks
  xTicks.forEach((t, i) => {
    g.append("line").attr("x1", x(t)).attr("x2", x(t)).attr("y1", p.bottom).attr("y2", p.bottom - 5).attr("stroke", "#000");
    g.append("line").attr("x1", x(t)).attr("x2", x(t)).attr("y1", p.top).attr("y2", p.top + 5).attr("stroke", "#000");
    g.append("text").attr("x", x(t)).attr("y", p.bottom + 20).attr("text-anchor", "middle")
      .attr("font-size", 17).attr("font-family", FONT).text(xTickLabels[i]);
  });
  // y ticks
  yGrid.forEach(v => {
    const len = Math.abs(Math.log10(v) - Math.round(Math.log10(v))) < 1e-6 ? 5 : 3;
    g.append("line").attr("x1", p.left).attr("x2", p.left + len).attr("y1", y(v)).attr("y2", y(v)).attr("stroke", "#000");
    g.append("line").attr("x1", p.right).attr("x2", p.right - len).attr("y1", y(v)).attr("y2", y(v)).attr("stroke", "#000");
  });
  p.yExp.forEach(e => {
    const t = g.append("text").attr("x", p.left - 8).attr("y", y(Math.pow(10, e)) + 6)
      .attr("text-anchor", "end").attr("font-size", 17).attr("font-family", FONT);
    t.append("tspan").text("10");
    t.append("tspan").attr("dy", -8).attr("font-size", 12).text(String(e));
  });

  // axis labels
  g.append("text").attr("x", (p.left + p.right) / 2).attr("y", p.bottom + 41).attr("text-anchor", "middle")
    .attr("font-size", 19).attr("font-family", FONT).text("L*");
  const yl = g.append("text").attr("transform", "translate(33," + ((p.top + p.bottom) / 2) + ") rotate(-90)")
    .attr("text-anchor", "middle").attr("font-size", 21).attr("font-family", FONT);
  yl.append("tspan").text("Diff. Flux [#/cm");
  yl.append("tspan").attr("dy", -8).attr("font-size", 14).text("2");
  yl.append("tspan").attr("dy", 8).text("-s\u2013MeV]");

  // title
  g.append("text").attr("x", 346).attr("y", p.titleY).attr("text-anchor", "middle")
    .attr("font-size", 18).attr("font-family", FONT).text(p.title);
  g.append("text").attr("x", 15).attr("y", p.tagY).attr("font-size", 24).attr("font-weight", "bold")
    .attr("font-family", FONT).text(p.tag);
  g.append("text").attr("x", p.right - 2).attr("y", p.top + p.boxTitleDy).attr("text-anchor", "end")
    .attr("font-size", 16).attr("font-weight", "bold").attr("font-family", FONT).text(p.boxTitle);

  // annotations
  p.notes.forEach(n => {
    const t = g.append("text").attr("x", n.x).attr("y", n.y).attr("font-size", 16).attr("font-family", FONT);
    t.append("tspan").text(n.text);
    if (n.sup) {
      t.append("tspan").attr("dy", -7).attr("font-size", 11).text(n.sup);
      t.append("tspan").attr("dy", 7).text(")");
    }
  });

  // legend
  const L = p.legend;
  g.append("rect").attr("x", L.x).attr("y", L.y).attr("width", L.w).attr("height", L.h)
    .attr("fill", "#fff").attr("stroke", "#444").attr("stroke-width", 1);
  legendLabels.forEach((lab, i) => {
    const yy = L.y + 10 + i * 17.5;
    g.append("line").attr("x1", L.x + 3).attr("x2", L.x + 15).attr("y1", yy).attr("y2", yy)
      .attr("stroke", colors[i]).attr("stroke-width", 1.5);
    g.append("text").attr("x", L.x + 16).attr("y", yy + 5).attr("font-size", 14).attr("font-family", FONT)
      .attr("fill", colors[i]).text(lab);
  });
}

drawPanel({
  id: "a", left: 96, right: 596, top: 32, bottom: 429, yDomain: [50, 5e8], yExp: yExpA,
  title: "MagEIS\u2013Med Chs. 3 (233 keV) and 5 (737 keV)", titleY: 24, tag: "a)", tagY: 32,
  boxTitle: "RBSP-ECT Electron Fluxes", boxTitleDy: 18,
  notes: [{x: 232, y: 123, text: "233 keV"}, {x: 207, y: 342, text: "737 keV (x10", sup: "-2"}],
  legend: {x: 103, y: 147, w: 113, h: 88},
  series: [
    {data: e233Blue, c: 0}, {data: e737Blue, c: 0},
    {data: e233Cyan, c: 1}, {data: e737Cyan, c: 1},
    {data: e233Green, c: 2}, {data: e737Green, c: 2},
    {data: e233Orange, c: 3}, {data: e737Orange, c: 3},
    {data: e233Red, c: 4}, {data: e737Red, c: 4}
  ]
});
drawPanel({
  id: "b", left: 96, right: 596, top: 511, bottom: 909, yDomain: [1e3, 1e9], yExp: yExpB,
  title: "MagEIS\u2013Prot Chs. 11 (294 keV) and 20 (1.15 MeV)", titleY: 503, tag: "b)", tagY: 512,
  boxTitle: "RBSP-ECT Proton Fluxes", boxTitleDy: 22,
  notes: [{x: 260, y: 602, text: "294 keV"}, {x: 173, y: 768, text: "1.15 MeV (x10", sup: "-1"}],
  legend: {x: 103, y: 517, w: 115, h: 88},
  series: [
    {data: p294Blue, c: 0}, {data: p115Blue, c: 0},
    {data: p294Cyan, c: 1}, {data: p115Cyan, c: 1},
    {data: p294Green, c: 2}, {data: p115Green, c: 2},
    {data: p294Orange, c: 3}, {data: p115Orange, c: 3},
    {data: p294Red, c: 4}, {data: p115Red, c: 4}
  ]
});
</script>
</body></html>
